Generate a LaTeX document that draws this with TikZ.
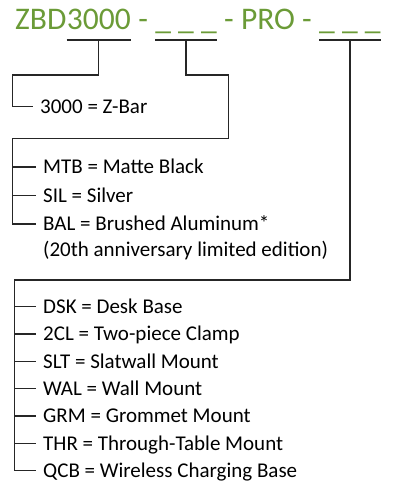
\documentclass[tikz,border=0pt]{standalone}
\usepackage{fontspec}
\setmainfont{Carlito}
\usetikzlibrary{positioning}
\definecolor{zgreen}{RGB}{107,155,55}
\tikzset{
	part/.style={inner sep=0pt, text=zgreen, font=\fontsize{31.5}{37}\selectfont, text depth=10.7pt},
	opt/.style={anchor=west, inner xsep=7pt, inner ysep=0pt, text height=13.6pt, text depth=0pt, font=\fontsize{21}{25}\selectfont},
	wire/.style={line width=1.4pt, black!85},
}
\begin{document}
\begin{tikzpicture}[x=1pt,y=-1pt]
	\useasboundingbox (0,0) rectangle (392,489);
	% part number
	\node[part, anchor=base west] (zbd) at (15,29.3) {ZBD};
	\node[part, base right=0pt of zbd] (num) {3000};
	\node[part, base right=0pt of num] (sepa) {~-~\null};
	\node[part, base right=0pt of sepa] (fin) {\_~\_~\_};
	\node[part, base right=0pt of fin] (sepb) {~-~PRO~-~\null};
	\node[part, base right=0pt of sepb] (mnt) {\_~\_~\_};
	\draw[wire] (num.south west) -- (num.south east);
	\draw[wire] (fin.south west) -- (fin.south east);
	\draw[wire] (mnt.south west) -- (mnt.south east);

	% model
	\coordinate (ea) at (12.5,75);
	\node[opt] (bar) at (33,106.7) {3000 = Z-Bar};
	\draw[wire] (num.south) |- (ea) |- (bar.west);

	% finish
	\coordinate (eb) at (228.3,75);
	\coordinate (ec) at (12.5,138.3);
	\node[opt] (mtb) at (36,167) {MTB = Matte Black};
	\node[opt] (sil) at (36,195.5) {SIL = Silver};
	\node[opt] (bal) at (36,224) {BAL = Brushed Aluminum*};
	\node[opt] (note) at (36,249.5) {(20th anniversary limited edition)};
	\draw[wire] (fin.south) |- (eb) |- (ec) |- (bal.west);
	\draw[wire] (ec |- mtb.west) -- (mtb.west);
	\draw[wire] (ec |- sil.west) -- (sil.west);

	% mount
	\coordinate (ed) at (14.5,280);
	\foreach \k/\code/\txt in {0/dsk/DSK = Desk Base, 1/tcl/2CL = Two-piece Clamp, 2/slt/SLT = Slatwall Mount,
		3/wal/WAL = Wall Mount, 4/grm/GRM = Grommet Mount, 5/thr/THR = Through-Table Mount, 6/qcb/QCB = Wireless Charging Base}
		\node[opt] (\code) at (36,306.7+27.33*\k) {\txt};
	\draw[wire] (mnt.south) |- (ed) |- (qcb.west);
	\foreach \code in {dsk,tcl,slt,wal,grm,thr}
		\draw[wire] (ed |- \code.west) -- (\code.west);
\end{tikzpicture}
\end{document}
